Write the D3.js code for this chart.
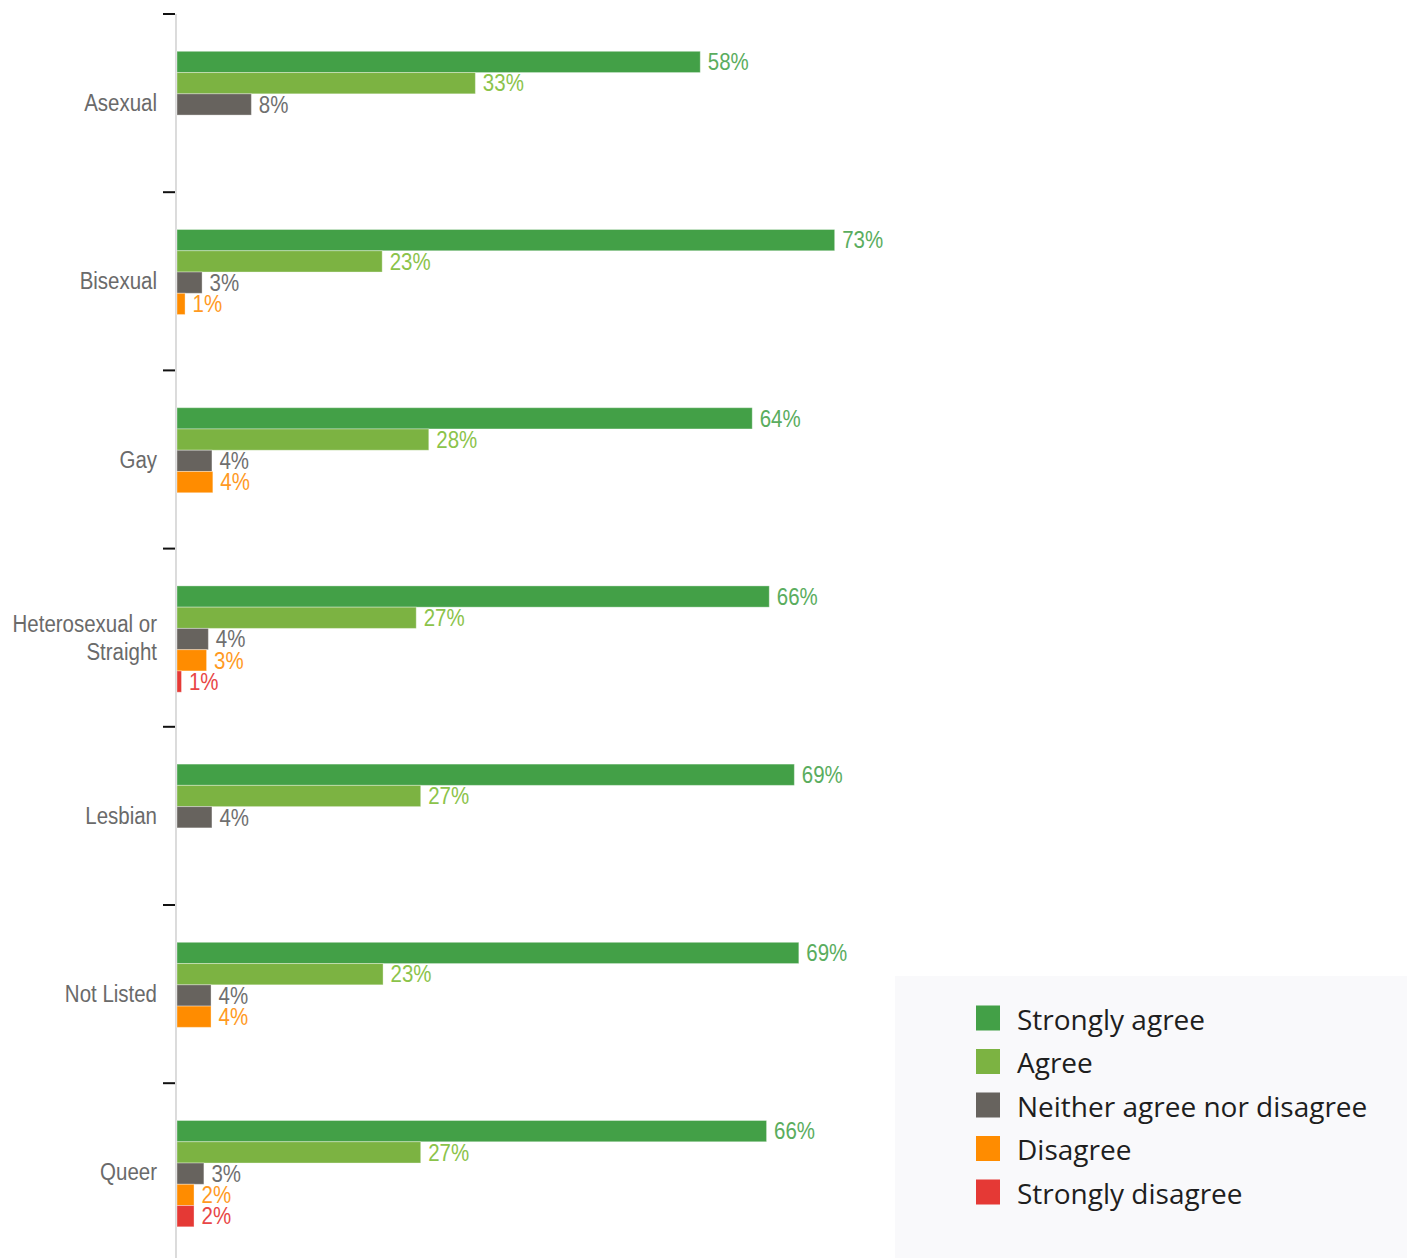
<!DOCTYPE html>
<html>
<head>
<meta charset="utf-8">
<script src="https://cdn.jsdelivr.net/npm/d3@7"></script>
<style>
  html, body { margin: 0; padding: 0; background: #ffffff; }
  svg { display: block; }
</style>
</head>
<body>
<div id="chart"></div>
<script>
// ---- data ----
const categories = ["Asexual", "Bisexual", "Gay", "Heterosexual or Straight", "Lesbian", "Not Listed", "Queer"];
const seriesNames = ["Strongly agree", "Agree", "Neither agree nor disagree", "Disagree", "Strongly disagree"];
const seriesColors = ["#43a047", "#7cb342", "#67635e", "#ff8c00", "#e53935"];
const labelColors  = ["#5aad5e", "#8bc34a", "#6f6f6f", "#ff9a1f", "#e84646"];
// values per category, in the order of seriesNames (null = no response)
const stronglyAgree    = [58.4, 73.4, 64.2, 66.1, 68.9, 69.4, 65.8];
const agree            = [33.3, 22.9, 28.1, 26.7, 27.2, 23.0, 27.2];
const neither          = [8.3, 2.8, 3.9, 3.5, 3.9, 3.8, 3.0];
const disagree         = [null, 0.9, 4.0, 3.3, null, 3.8, 1.9];
const stronglyDisagree = [null, null, null, 0.5, null, null, 1.9];
const seriesValues = [stronglyAgree, agree, neither, disagree, stronglyDisagree];

// ---- layout ----
const W = 1407, H = 1258;
const svg = d3.select("#chart").append("svg").attr("width", W).attr("height", H);

const x = d3.scaleLinear().domain([0, 100]).range([177, 1073]);
const step = 178.2;
const y = d3.scaleBand().domain(categories).range([14, 14 + step * categories.length]).padding(0);
const inner = d3.scaleBand().domain(seriesNames).range([37.3, 37.3 + 106.3]).padding(0);

const fontLabel = "'Liberation Sans', Arial, sans-serif";
const narrow = 0.89;

// axis line
svg.append("line")
  .attr("x1", 176).attr("x2", 176)
  .attr("y1", 14).attr("y2", H)
  .attr("stroke", "#d3d3d3").attr("stroke-width", 1.6);

// ticks at band boundaries
svg.selectAll("line.tick").data(categories).join("line")
  .attr("class", "tick")
  .attr("x1", 163).attr("x2", 175)
  .attr("y1", d => y(d)).attr("y2", d => y(d))
  .attr("stroke", "#111").attr("stroke-width", 2);

// category labels
const catLines = {"Heterosexual or Straight": ["Heterosexual or", "Straight"]};
categories.forEach(c => {
  const cy = y(c) + y.bandwidth() / 2;
  const lines = catLines[c] || [c];
  lines.forEach((ln, i) => {
    svg.append("text")
      .attr("transform", `translate(157,${cy + (i - (lines.length - 1) / 2) * 28.5}) scale(${narrow},1)`)
      .attr("text-anchor", "end")
      .attr("dy", "0.35em")
      .attr("font-family", fontLabel)
      .attr("font-size", 23)
      .attr("fill", "#6a6a6a")
      .text(ln);
  });
});

// bars
const rows = [];
categories.forEach((c, ci) => {
  seriesNames.forEach((s, si) => {
    const v = seriesValues[si][ci];
    if (v != null) rows.push({c, s, si, v});
  });
});

const g = svg.append("g");
g.selectAll("rect.bar").data(rows).join("rect")
  .attr("class", "bar")
  .attr("x", x(0))
  .attr("y", d => y(d.c) + inner(d.s))
  .attr("width", d => x(d.v) - x(0))
  .attr("height", inner.bandwidth())
  .attr("fill", d => seriesColors[d.si])
  .attr("stroke", "rgba(255,255,255,0.35)")
  .attr("stroke-width", 1);

g.selectAll("text.val").data(rows).join("text")
  .attr("class", "val")
  .attr("transform", d => `translate(${x(d.v) + 7.5},${y(d.c) + inner(d.s) + inner.bandwidth() / 2}) scale(${narrow},1)`)
  .attr("dy", "0.36em")
  .attr("font-family", fontLabel)
  .attr("font-size", 23)
  .attr("fill", d => labelColors[d.si])
  .text(d => Math.round(d.v) + "%");

// legend
const lg = svg.append("g");
lg.append("rect")
  .attr("x", 895).attr("y", 976)
  .attr("width", W - 895).attr("height", H - 976)
  .attr("fill", "#f9f9fb");
const legY = d3.scalePoint().domain(seriesNames).range([1018, 1192]);
lg.selectAll("rect.sw").data(seriesNames).join("rect")
  .attr("class", "sw")
  .attr("x", 976).attr("y", d => legY(d) - 12.5)
  .attr("width", 24).attr("height", 25)
  .attr("fill", (d, i) => seriesColors[i]);
lg.selectAll("text.lt").data(seriesNames).join("text")
  .attr("class", "lt")
  .attr("x", 1017).attr("y", d => legY(d))
  .attr("dy", "0.42em")
  .attr("font-family", "'Open Sans', 'Noto Sans', sans-serif")
  .attr("font-size", 28)
  .attr("fill", "#1e1e1e")
  .text(d => d);
</script>
</body>
</html>
